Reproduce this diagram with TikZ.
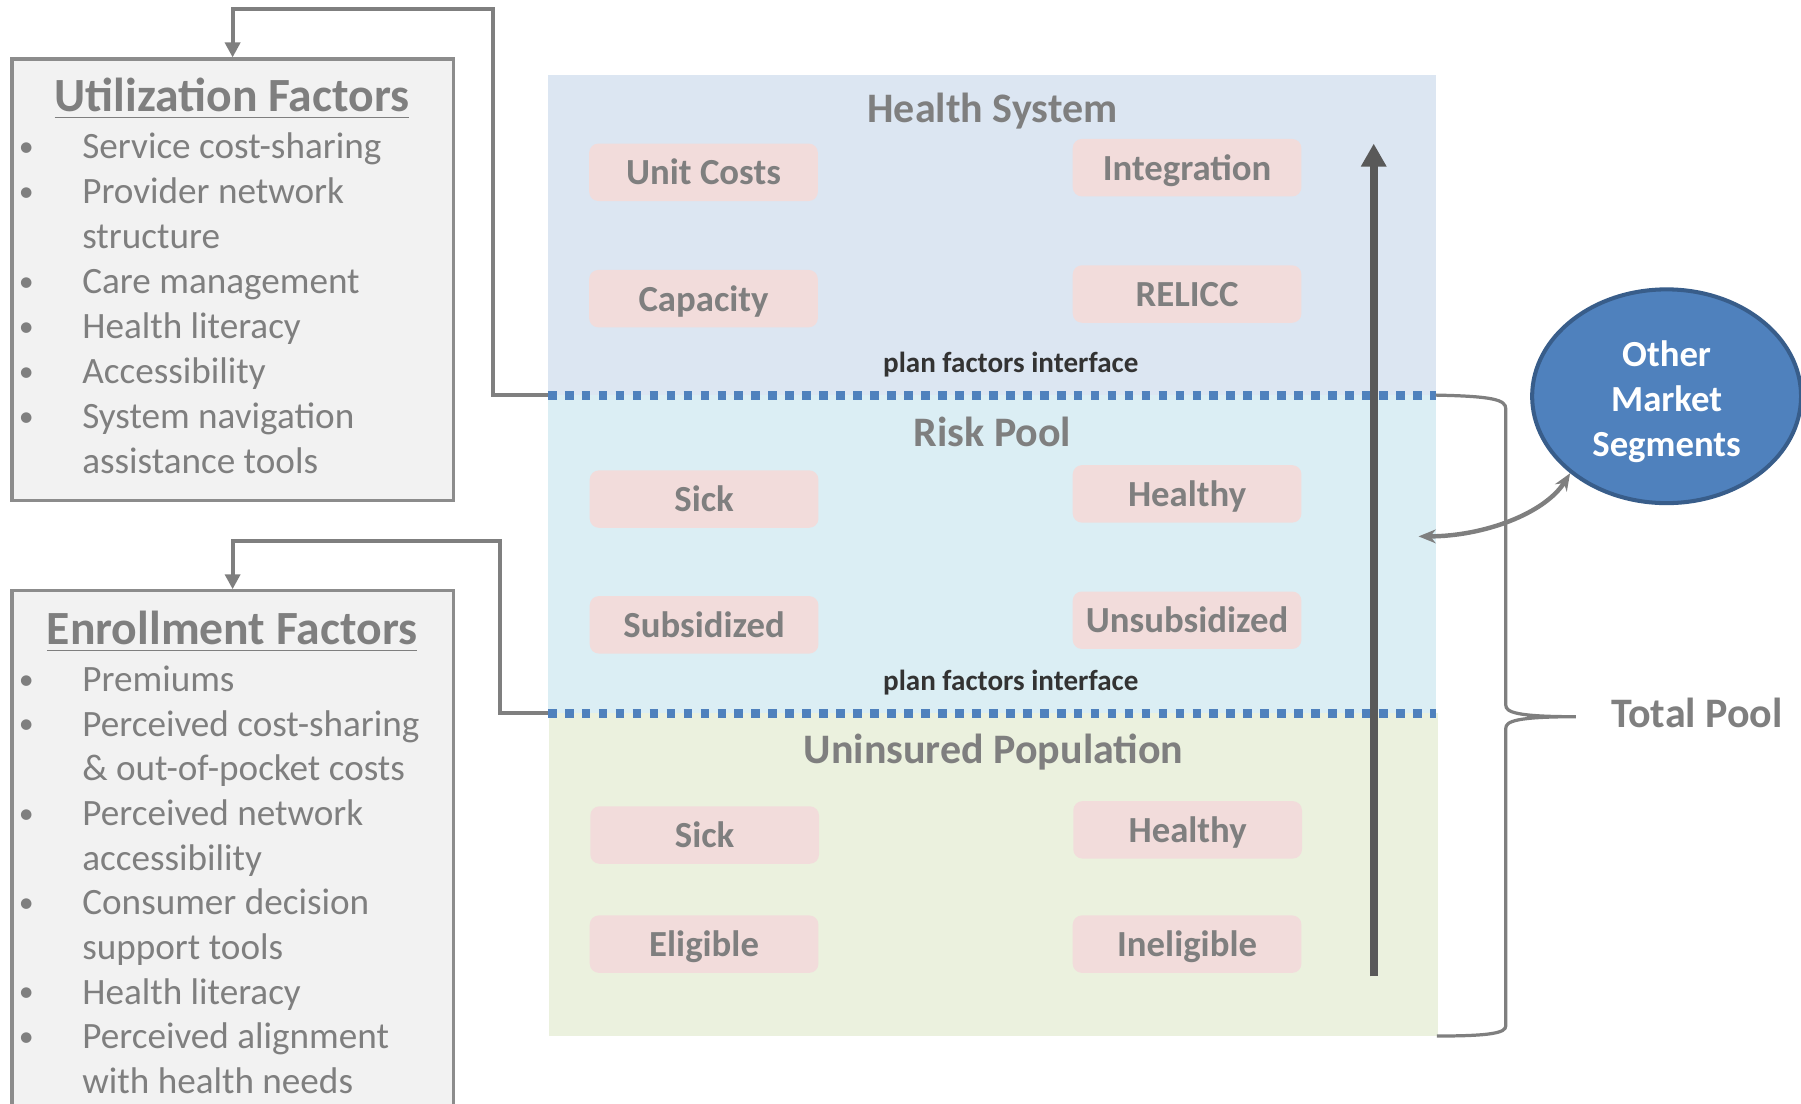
\documentclass[tikz,border=0pt]{standalone}
\usepackage{fontspec}
\setmainfont{Carlito}
\usetikzlibrary{arrows.meta,shapes.geometric}

\definecolor{txtgray}{HTML}{7F7F7F}
\definecolor{boxline}{HTML}{8C8C8C}
\definecolor{boxfill}{HTML}{F2F2F2}
\definecolor{hsfill}{HTML}{DCE6F2}
\definecolor{rpfill}{HTML}{DBEEF4}
\definecolor{unfill}{HTML}{EBF1DE}
\definecolor{pinkfill}{HTML}{F2DCDB}
\definecolor{ifaceblue}{HTML}{4F81BD}
\definecolor{segline}{HTML}{385D8A}
\definecolor{flowgray}{HTML}{595959}

\begin{document}
\begin{tikzpicture}[
  x=0.01cm, y=-0.01cm,
  factorbox/.style={rectangle, draw=boxline, fill=boxfill, line width=0.8pt, inner sep=0, anchor=north west, minimum width=3.84cm},
  factortitle/.style={anchor=base, inner sep=0, text=txtgray, font=\bfseries\fontsize{11.8}{14}\selectfont},
  itemtext/.style={anchor=base west, inner sep=0, text=txtgray, font=\fontsize{9.2}{11}\selectfont},
  dot/.style={anchor=base, inner sep=0, text=txtgray, font=\fontsize{7.4}{9}\selectfont},
  paneltitle/.style={anchor=base, inner sep=0, text=txtgray, font=\bfseries\fontsize{10.4}{12}\selectfont},
  pinkbox/.style={rectangle, rounded corners=0.08cm, fill=pinkfill, minimum width=1.99cm, minimum height=0.5cm, inner sep=0, text height=7pt, text depth=0.8pt, text=txtgray, font=\bfseries\fontsize{9.1}{11}\selectfont},
  ifacetext/.style={anchor=base, inner sep=0, text=black!80, font=\bfseries\fontsize{7.2}{9}\selectfont},
  pooltext/.style={anchor=base west, inner sep=0, text=txtgray, font=\bfseries\fontsize{10.4}{12}\selectfont},
  segment/.style={ellipse, draw=segline, line width=1pt, fill=ifaceblue, minimum width=2.34cm, minimum height=1.86cm, inner sep=0, align=center, text=white, font=\bfseries\fontsize{9.1}{11.1}\selectfont},
  iface/.style={ifaceblue, line width=2.2pt, dash pattern=on 2.15pt off 2.05pt},
  conn/.style={txtgray, line width=1pt, -{Triangle[length=0.13cm, width=0.13cm]}},
  flow/.style={flowgray, line width=2pt, -{Triangle[length=0.2cm, width=0.21cm]}},
  exchange/.style={txtgray, line width=1.1pt, {Stealth[length=0.15cm, width=0.12cm]}-{Stealth[length=0.15cm, width=0.12cm]}},
  poolbrace/.style={txtgray, line width=0.8pt},
]
\useasboundingbox (0,0) rectangle (1568,961);

% factor boxes
\node[factorbox, minimum height=3.84cm] (util) at (9,50) {};
\node[factorbox, minimum height=4.7cm] (enroll) at (9,513) {};

\node[factortitle] (utiltitle) at (202,97) {\underline{Utilization Factors}};
\foreach \t [count=\i] in {Service cost-sharing, Provider network, structure, Care management, Health literacy, Accessibility, System navigation, assistance tools}
  \node[itemtext] (ut\i) at (71,{138+39.2*(\i-1)}) {\t};
\foreach \i in {1,2,4,5,6,7}
  \node[dot] (ub\i) at (23,{136+39.2*(\i-1)}) {\textbullet};

\node[factortitle] (enrolltitle) at (202,561) {\underline{Enrollment Factors}};
\foreach \t [count=\i] in {Premiums, Perceived cost-sharing, {\& out-of-pocket costs}, Perceived network, accessibility, Consumer decision, support tools, Health literacy, Perceived alignment, with health needs}
  \node[itemtext] (et\i) at (71,{602+38.9*(\i-1)}) {\t};
\foreach \i in {1,2,4,6,8,9}
  \node[dot] (eb\i) at (23,{600+38.9*(\i-1)}) {\textbullet};

% market panel
\fill[hsfill] (477,65) rectangle (1250,344);
\fill[rpfill] (477,344) rectangle (1250,621);
\fill[unfill] (478,621) rectangle (1252,902);

\coordinate (ifaceA) at (477,344);
\coordinate (ifaceAend) at (1250,344);
\coordinate (ifaceB) at (477,621);
\coordinate (ifaceBend) at (1250,621);

\node[paneltitle] (hs) at (864,107) {Health System};
\node[paneltitle] (rp) at (864,389) {Risk Pool};
\node[paneltitle] (un) at (865,665) {Uninsured Population};

\node[pinkbox] (unitcost) at (612.5,150) {Unit Costs};
\node[pinkbox] (integr) at (1033.5,146) {Integration};
\node[pinkbox] (capac) at (612.5,260) {Capacity};
\node[pinkbox] (relicc) at (1033.5,256) {RELICC};

\node[pinkbox] (rpsick) at (613,434.5) {Sick};
\node[pinkbox] (rphealthy) at (1033.5,430) {Healthy};
\node[pinkbox] (subsid) at (613,544) {Subsidized};
\node[pinkbox] (unsubsid) at (1033.5,540) {Unsubsidized};

\node[pinkbox] (unsick) at (613.5,727) {Sick};
\node[pinkbox] (unhealthy) at (1034,722.5) {Healthy};
\node[pinkbox] (elig) at (613,822) {Eligible};
\node[pinkbox] (inelig) at (1033.5,822) {Ineligible};

\node[ifacetext] (ifacetxtA) at (880,324) {plan factors interface};
\node[ifacetext] (ifacetxtB) at (880,601) {plan factors interface};

\coordinate (utilturn) at (429,8);
\coordinate (enrollturn) at (435,471);
\draw[conn] (ifaceA) -| (utilturn) -| (util.north);
\draw[conn] (ifaceB) -| (enrollturn) -| (enroll.north);

\draw[iface] (ifaceA) -- (ifaceAend);
\draw[iface] (ifaceB) -- (ifaceBend);

\coordinate (flowbot) at (1196,850);
\coordinate (flowtop) at (1196,125);
\draw[flow] (flowbot) -- (flowtop);

% total pool and other segments
\coordinate (poolpt) at (1372,624);
\draw[poolbrace] (ifaceAend) .. controls (1300,345) and (1311,348) .. (1311,356) -- (1311,614)
  .. controls (1311,620) and (1320,624) .. (poolpt)
  .. controls (1320,624) and (1311,628) .. (1311,634) -- (1311,893)
  .. controls (1311,899) and (1300,902) .. (1251,902);
\node[pooltext] (total) at (1402,633.5) {Total Pool};

\node[segment] (others) at (1451,345) {\rule{0pt}{9pt}Other\\Market\\Segments};
\coordinate (rpentry) at (1235,467);
\draw[exchange] (rpentry) .. controls (1292,467) and (1345,447) .. (others.south west);

\end{tikzpicture}
\end{document}
